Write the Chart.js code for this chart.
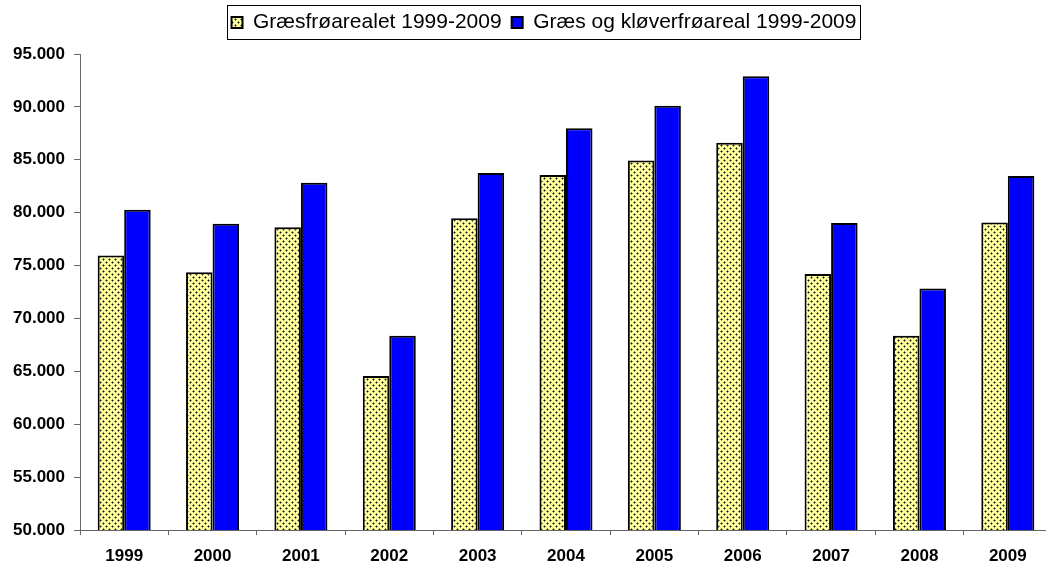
<!DOCTYPE html>
<html>
<head>
<meta charset="utf-8">
<script src="https://cdn.jsdelivr.net/npm/chart.js@4"></script>
<style>
  html, body { margin: 0; padding: 0; background: #fff; overflow: hidden; }
  #wrap { width: 1046px; height: 567px; overflow: hidden; position: relative; }
  canvas { position: absolute; left: 0; top: 0; }
</style>
</head>
<body>
<div id="wrap"><canvas id="grassChart" width="1052" height="567"></canvas></div>
<script>
// data
const years = ['1999', '2000', '2001', '2002', '2003', '2004', '2005', '2006', '2007', '2008', '2009'];
const graesfroe = [75940, 74370, 78620, 64570, 79470, 83560, 84920, 86620, 74210, 68370, 79060];
const graesKloever = [80280, 78960, 82840, 68370, 83750, 87980, 90110, 92890, 79030, 72820, 83470];
const seriesNames = ['Græsfrøarealet 1999-2009', 'Græs og kløverfrøareal 1999-2009'];
const yMin = 50000, yMax = 95000, yStep = 5000;

const FONT = '"Liberation Sans", Arial, sans-serif';

// yellow with small dark dots, like the excel fill
function dotPattern() {
    const c = document.createElement('canvas');
    c.width = 6; c.height = 6;
    const g = c.getContext('2d');
    g.fillStyle = '#ffff99';
    g.fillRect(0, 0, 6, 6);
    g.fillStyle = '#8a8a60';
    g.fillRect(0, 1, 3, 1); g.fillRect(1, 0, 1, 3);
    g.fillRect(3, 4, 3, 1); g.fillRect(4, 3, 1, 3);
    g.fillStyle = '#111';
    g.fillRect(1, 1, 1, 1);
    g.fillRect(4, 4, 1, 1);
    return g.createPattern(c, 'repeat');
}

function danish(v) {
    return String(v).replace(/\B(?=(\d{3})+(?!\d))/g, '.');
}

// legend: a bit taller, moved right, thin black frame
const legendTweak = {
    id: 'legendTweak',
    beforeLayout(chart) {
        const lg = chart.legend;
        if (lg && !lg._tweaked) {
            const fit = lg.fit.bind(lg);
            lg.fit = function () { fit(); this.height += 11; };
            lg._tweaked = true;
        }
    },
    afterLayout(chart) {
        const lg = chart.legend;
        lg.left += 18;
        lg.right += 18;
    },
    afterDraw(chart) {
        const boxes = chart.legend.legendHitBoxes;
        if (!boxes || !boxes.length) return;
        let l = Infinity, r = -Infinity, t = Infinity, b = -Infinity;
        boxes.forEach(h => {
            l = Math.min(l, h.left); r = Math.max(r, h.left + h.width);
            t = Math.min(t, h.top); b = Math.max(b, h.top + h.height);
        });
        const ctx = chart.ctx;
        ctx.save();
        ctx.strokeStyle = '#000';
        ctx.lineWidth = 1;
        ctx.strokeRect(Math.round(l - 5) + 0.5, Math.round(t - 7) + 0.5, Math.round(r - l + 8), Math.round(b - t + 13));
        ctx.restore();
    }
};

const ctx = document.getElementById('grassChart').getContext('2d');
const chart = new Chart(ctx, {
    type: 'bar',
    data: {
        labels: years,
        datasets: [{
            label: seriesNames[0],
            data: graesfroe,
            backgroundColor: dotPattern(),
            borderColor: '#000',
            borderWidth: 2
        }, {
            label: seriesNames[1],
            data: graesKloever,
            backgroundColor: '#0000ff',
            borderColor: '#000',
            borderWidth: 2
        }]
    },
    options: {
        responsive: false,
        animation: false,
        devicePixelRatio: 1,
        categoryPercentage: 0.6,
        barPercentage: 1,
        layout: { padding: { left: 0, right: 0, top: 2, bottom: 0 } },
        plugins: {
            tooltip: { enabled: false },
            legend: {
                position: 'top',
                labels: {
                    color: '#000',
                    font: { family: FONT, size: 21 },
                    boxWidth: 11,
                    boxHeight: 11,
                    padding: 10
                }
            }
        },
        scales: {
            x: {
                afterFit(scale) { scale.height = 37; },
                grid: { offset: true, drawOnChartArea: false, tickLength: 5, color: '#666' },
                border: { color: '#666' },
                ticks: { color: '#000', padding: 11, font: { family: FONT, size: 17, weight: 'bold' }, maxRotation: 0 }
            },
            y: {
                min: yMin,
                max: yMax,
                afterFit(scale) { scale.width = 80; },
                grid: { drawOnChartArea: false, tickLength: 6, color: '#666' },
                border: { color: '#666' },
                ticks: {
                    stepSize: yStep,
                    color: '#000',
                    padding: 9,
                    font: { family: FONT, size: 17, weight: 'bold' },
                    callback: v => danish(v)
                }
            }
        }
    },
    plugins: [legendTweak]
});
</script>
</body>
</html>
